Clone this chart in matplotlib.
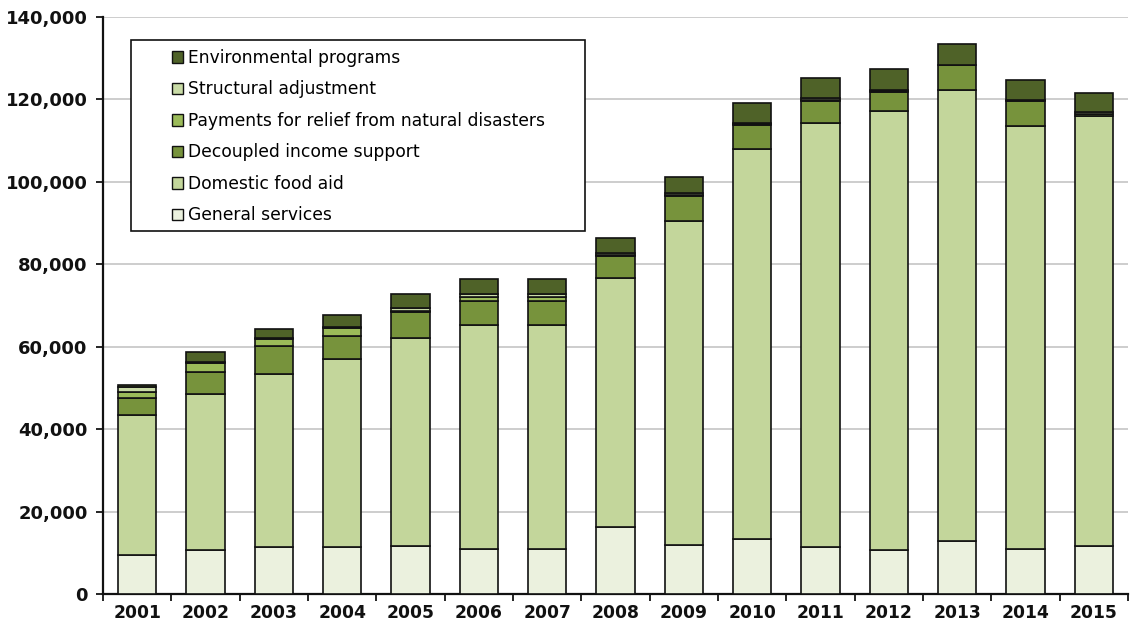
import matplotlib
matplotlib.use("Agg")
import matplotlib.pyplot as plt
from matplotlib.patches import Patch, Rectangle
from matplotlib.ticker import FuncFormatter, FixedLocator
import numpy as np

years = ["2001", "2002", "2003", "2004", "2005", "2006", "2007", "2008",
         "2009", "2010", "2011", "2012", "2013", "2014", "2015"]

general_services = [9500, 10600, 11400, 11400, 11700, 11000, 11000, 16200,
                    11800, 13300, 11400, 10700, 12900, 11000, 11700]
domestic_food_aid = [33900, 37900, 41900, 45700, 50500, 54200, 54200, 60400,
                     78800, 94600, 102800, 106500, 109400, 102600, 104300]
decoupled_income = [4100, 5300, 6900, 5500, 6200, 5900, 5900, 5500,
                    6000, 6000, 5500, 4700, 6000, 6100, 400]
disaster_relief = [1400, 2200, 1700, 1900, 200, 900, 1000, 100,
                   100, 100, 100, 100, 50, 50, 100]
structural_adj = [1400, 300, 200, 200, 700, 700, 600, 500,
                  500, 400, 500, 300, 100, 100, 400]
environmental = [500, 2300, 2100, 3100, 3400, 3700, 3700, 3600,
                 3900, 4700, 5000, 5200, 5000, 4800, 4700]

series = [
    ("General services", general_services, "#EBF1DE"),
    ("Domestic food aid", domestic_food_aid, "#C3D69B"),
    ("Decoupled income support", decoupled_income, "#77933C"),
    ("Payments for relief from natural disasters", disaster_relief, "#9BBB59"),
    ("Structural adjustment", structural_adj, "#C9DBA6"),
    ("Environmental programs", environmental, "#4F6228"),
]

W, H = 1131, 628
fig = plt.figure(figsize=(W / 100, H / 100), dpi=100)
ax = fig.add_axes([103 / W, (H - 594) / H, (1128 - 103) / W, (594 - 17) / H])

x = np.arange(len(years))
bottom = np.zeros(len(years))
for name, vals, col in series:
    v = np.array(vals, dtype=float)
    ax.bar(x, v, bottom=bottom, width=0.56, color=col, edgecolor="#111111",
           linewidth=1.2, zorder=3)
    bottom += v

ax.set_xlim(-0.5, len(years) - 0.5)
ax.set_ylim(0, 140000)
ax.set_yticks(np.arange(0, 140001, 20000))
ax.yaxis.set_major_formatter(FuncFormatter(lambda v, p: f"{int(v):,}"))
ax.yaxis.grid(True, color="#C0C0C0", linewidth=1.1, zorder=0)
ax.set_axisbelow(True)

ax.set_xticks(x)
ax.set_xticklabels(years)
ax.xaxis.set_minor_locator(FixedLocator(np.arange(-0.5, len(years), 1.0)))
ax.tick_params(axis="x", which="major", length=0, pad=7)
ax.tick_params(axis="x", which="minor", length=5, width=1.2, direction="out")
ax.tick_params(axis="y", which="major", length=5, width=1.2, direction="out", pad=6)

for lab in ax.get_xticklabels():
    lab.set_fontsize(12.3)
    lab.set_fontweight("bold")
    lab.set_color("#111111")
for lab in ax.get_yticklabels():
    lab.set_fontsize(13)
    lab.set_fontweight("bold")
    lab.set_color("#111111")

for s in ["top", "right"]:
    ax.spines[s].set_visible(False)
for s in ["left", "bottom"]:
    ax.spines[s].set_linewidth(1.6)
    ax.spines[s].set_color("#111111")

# legend frame
def px2ax(px, py):
    return ((px - 103) / (1128 - 103), (594 - py) / (594 - 17))

x0, y0 = px2ax(131, 231)
x1, y1 = px2ax(585, 40)
ax.add_patch(Rectangle((x0, y0), x1 - x0, y1 - y0, transform=ax.transAxes,
                       facecolor="white", edgecolor="#111111", linewidth=1.2,
                       zorder=5))

handles = [Patch(facecolor=col, edgecolor="#111111", linewidth=1.0, label=name)
           for name, vals, col in series][::-1]
lx, ly = px2ax(172, 49)
leg = ax.legend(handles=handles, loc="upper left", bbox_to_anchor=(lx, ly),
                frameon=False, fontsize=12.3, handlelength=0.65,
                handleheight=0.65, handletextpad=0.3, labelspacing=0.79,
                borderpad=0.0, borderaxespad=0.0)
leg.set_zorder(6)

fig.savefig("out.png", dpi=100)
